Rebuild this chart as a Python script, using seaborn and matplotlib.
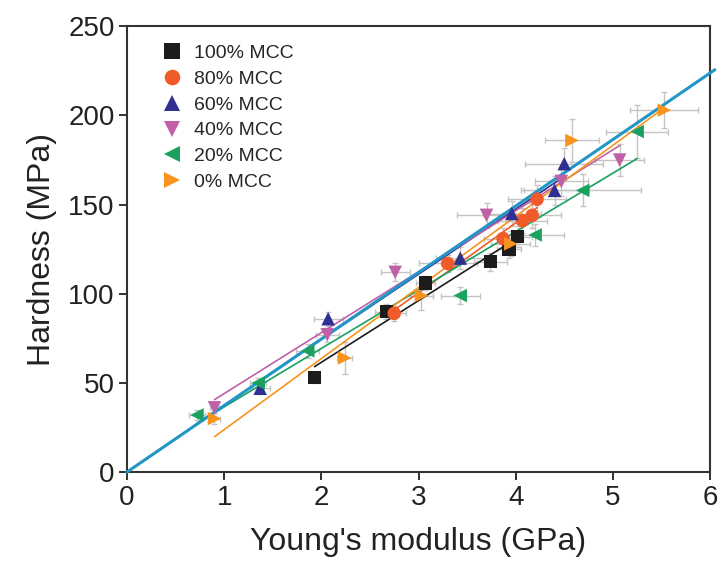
import numpy as np
import pandas as pd
import matplotlib
matplotlib.use("Agg")
import matplotlib.pyplot as plt
import seaborn as sns

# ---- data ----
labels = ["100% MCC", "80% MCC", "60% MCC", "40% MCC", "20% MCC", "0% MCC"]

x_100 = [1.93, 2.67, 3.07, 3.74, 3.93, 4.02]
y_100 = [53, 90, 106, 118, 125, 132]
xe_100 = [0.06, 0.12, 0.10, 0.17, 0.12, 0.15]
ye_100 = [3, 4, 4, 5, 5, 6]

x_80 = [2.75, 3.30, 3.87, 4.07, 4.17, 4.22]
y_80 = [89, 117, 131, 141, 144, 153]
xe_80 = [0.12, 0.30, 0.20, 0.25, 0.30, 0.30]
ye_80 = [4, 5, 6, 7, 7, 8]

x_60 = [1.37, 2.07, 3.43, 3.96, 4.40, 4.50]
y_60 = [47, 86, 120, 145, 158, 173]
xe_60 = [0.10, 0.15, 0.25, 0.30, 0.35, 0.40]
ye_60 = [3, 4, 6, 7, 8, 9]

x_40 = [0.90, 2.06, 2.76, 3.70, 4.47, 5.07]
y_40 = [36, 77, 112, 144, 163, 175]
xe_40 = [0.05, 0.12, 0.15, 0.30, 0.27, 0.25]
ye_40 = [3, 4, 5, 7, 8, 9]

x_20 = [0.72, 1.35, 1.86, 3.43, 4.20, 4.69, 5.25]
y_20 = [32, 50, 68, 99, 133, 158, 191]
xe_20 = [0.08, 0.08, 0.12, 0.20, 0.30, 0.60, 0.32]
ye_20 = [3, 3, 4, 5, 6, 9, 15]

x_0 = [0.90, 2.24, 3.03, 3.95, 4.58, 5.53]
y_0 = [30, 64, 99, 128, 186, 203]
xe_0 = [0.06, 0.08, 0.12, 0.20, 0.28, 0.35]
ye_0 = [3, 9, 8, 7, 12, 10]

overall_slope = 37.3  # global fit through origin (cyan line)

colors = ["#1c1c1c", "#f15a29", "#2e3192", "#c061a8", "#1aa160", "#f7941d"]
markers = ["s", "o", "^", "v", "<", ">"]
main_line_color = "#2196c4"

series = [
    (x_100, y_100, xe_100, ye_100),
    (x_80, y_80, xe_80, ye_80),
    (x_60, y_60, xe_60, ye_60),
    (x_40, y_40, xe_40, ye_40),
    (x_20, y_20, xe_20, ye_20),
    (x_0, y_0, xe_0, ye_0),
]

rows = []
for lab, (xs, ys, _, _) in zip(labels, series):
    for xv, yv in zip(xs, ys):
        rows.append({"E": xv, "H": yv, "group": lab})
df = pd.DataFrame(rows)

sns.set_style("ticks")
plt.rcParams["font.family"] = ["Liberation Sans", "DejaVu Sans"]

fig = plt.figure(figsize=(7.23, 5.67), dpi=100)
ax = fig.add_axes([0.1757, 0.1675, 0.8063, 0.786])

# error bars
for (xs, ys, xe, ye) in series:
    ax.errorbar(xs, ys, xerr=xe, yerr=ye, fmt="none", ecolor="#c4c4c4",
                elinewidth=1.0, capsize=2.5, capthick=1.0, zorder=1)

# global line through origin
gx = np.array([0.0, 6.05])
ax.plot(gx, overall_slope * gx, color=main_line_color, lw=2.2, zorder=3,
        clip_on=False)

# per-series linear fits
for (xs, ys, _, _), c in zip(series, colors):
    xs_a = np.array(xs)
    k, b = np.polyfit(xs_a, np.array(ys), 1)
    lx = np.array([xs_a.min(), xs_a.max()])
    sns.lineplot(x=lx, y=k * lx + b, color=c, lw=1.2, ax=ax, zorder=2,
                 legend=False)

sns.scatterplot(data=df, x="E", y="H", hue="group", style="group",
                hue_order=labels, style_order=labels,
                palette=dict(zip(labels, colors)),
                markers=dict(zip(labels, markers)),
                s=95, edgecolor="none", linewidth=0, ax=ax, zorder=4)

ax.set_xlim(0, 6)
ax.set_ylim(0, 250)
ax.set_xticks(range(0, 7))
ax.set_yticks(range(0, 251, 50))
ax.tick_params(axis="both", direction="out", length=6, width=1.3,
               labelsize=20, colors="#222222", pad=3)
for sp in ax.spines.values():
    sp.set_linewidth(1.5)
    sp.set_color("#333333")

ax.set_xlabel("Young's modulus (GPa)", fontsize=23, color="#222222", labelpad=12)
ax.set_ylabel("Hardness (MPa)", fontsize=23, color="#222222", labelpad=8)

leg = ax.legend(loc="upper left", bbox_to_anchor=(0.02, 0.99), frameon=False,
                fontsize=14, handletextpad=0.15, labelspacing=0.42,
                borderaxespad=0.3, markerscale=1.15)

fig.savefig("out.png", dpi=100)
